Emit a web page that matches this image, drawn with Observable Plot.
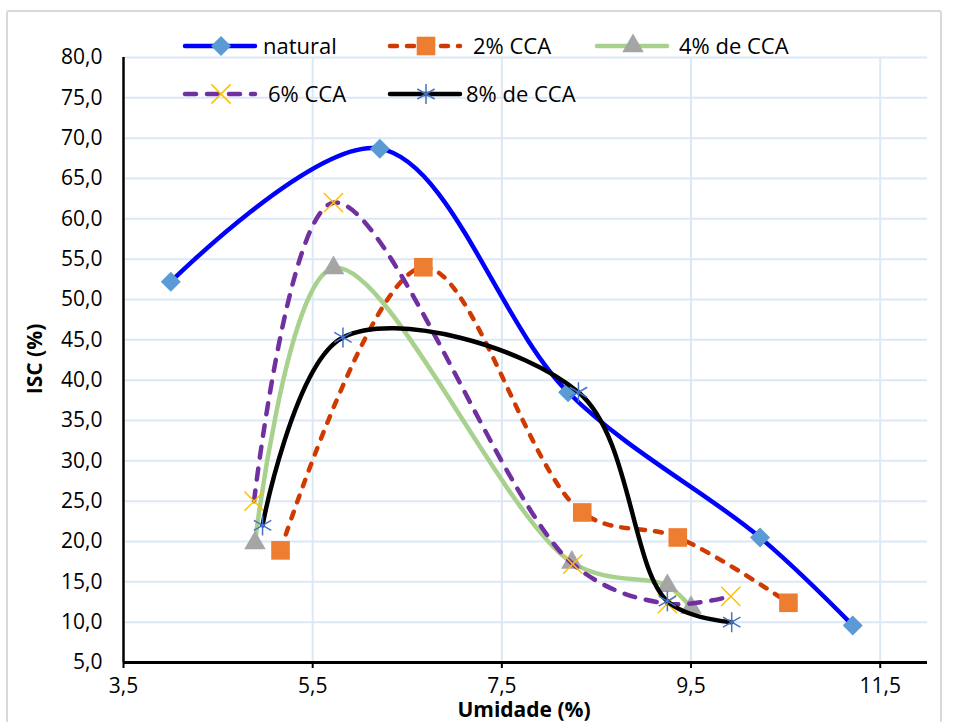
<!DOCTYPE html>
<html>
<head>
<meta charset="utf-8">
<script src="https://cdn.jsdelivr.net/npm/d3@7"></script>
<script src="https://cdn.jsdelivr.net/npm/@observablehq/plot@0.6"></script>
<style>
  html, body { margin: 0; padding: 0; background: #fff; }
  body { width: 953px; height: 722px; position: relative; overflow: hidden; font-family: "Open Sans", sans-serif; }
  #frame { position: absolute; left: 6px; top: 10px; width: 936px; height: 740px; border: 2px solid #d9d9d9; border-radius: 3px; box-sizing: border-box; }
  #chart { position: absolute; left: 0; top: 0; }
  .title { position: absolute; font-weight: bold; font-size: 21px; color: #000; white-space: nowrap; }
</style>
</head>
<body>
<div id="frame"></div>
<div id="chart"></div>
<div class="title" id="xtitle" style="left:524px; top:709px; transform: translate(-50%, -50%);">Umidade (%)</div>
<div class="title" id="ytitle" style="left:34px; top:359px; transform: translate(-50%, -50%) rotate(-90deg);">ISC (%)</div>
<script>
// ---- Data ----
const seriesNames = ["natural", "2% CCA", "4% de CCA", "6% CCA", "8% de CCA"];
const naturalX = [4.0, 6.21, 8.2, 10.23, 11.21];
const naturalY = [52.2, 68.7, 38.5, 20.5, 9.6];
const cca2X = [5.16, 6.67, 8.35, 9.36, 10.53];
const cca2Y = [18.9, 54.0, 23.6, 20.5, 12.4];
const cca4X = [4.89, 5.72, 8.24, 9.25, 9.5];
const cca4Y = [19.8, 53.9, 17.4, 14.5, 11.8];
const cca6X = [4.88, 5.72, 8.25, 9.25, 9.92];
const cca6Y = [25.0, 62.0, 17.2, 12.3, 13.2];
const cca8X = [4.97, 5.82, 8.31, 9.25, 9.93];
const cca8Y = [22.0, 45.3, 38.5, 12.6, 10.0];
const xTicks = [3.5, 5.5, 7.5, 9.5, 11.5];
const yTicks = [5, 10, 15, 20, 25, 30, 35, 40, 45, 50, 55, 60, 65, 70, 75, 80];

// ---- Styles ----
const styles = [
  {line: "#0000ff", dash: null, marker: "diamond2", fill: "#5b9bd5", stroke: "none", r: 9},
  {line: "#d03a00", dash: "7,10", marker: "square", fill: "#ed7d31", stroke: "none", r: 10.5},
  {line: "#a9d18e", dash: null, marker: "triangle", fill: "#a5a5a5", stroke: "none", r: 8},
  {line: "#7030a0", dash: "11,11", marker: "times", fill: "none", stroke: "#ffc000", r: 8.8},
  {line: "#000000", dash: null, marker: "asterisk", fill: "none", stroke: "#4472c4", r: 9.5}
];
const xs = [naturalX, cca2X, cca4X, cca6X, cca8X];
const ys = [naturalY, cca2Y, cca4Y, cca6Y, cca8Y];
const series = seriesNames.map((name, i) => xs[i].map((x, j) => ({name, x, y: ys[i][j]})));

const fmt = d3.format(".1f");
const comma = v => fmt(v).replace(".", ",");

const marks = [
  Plot.gridY(yTicks, {stroke: "#dce8f5", strokeOpacity: 1, strokeWidth: 2}),
  Plot.gridX(xTicks.slice(1), {stroke: "#dce8f5", strokeOpacity: 1, strokeWidth: 2}),
  Plot.axisY(yTicks, {tickSize: 0, tickPadding: 21, tickFormat: comma, fontSize: 21, fill: "#000", label: null}),
  Plot.axisX(xTicks, {tickSize: 6, tickPadding: 10, tickFormat: comma, fontSize: 21, fill: "#000", stroke: "#000", strokeWidth: 2, label: null}),
  Plot.ruleX([3.5], {stroke: "#000", strokeWidth: 2.5}),
  Plot.ruleY([5], {stroke: "#000", strokeWidth: 3})
];
series.forEach((data, i) => {
  const s = styles[i];
  marks.push(Plot.line(data, {x: "x", y: "y", curve: "catmull-rom", stroke: s.line, strokeWidth: 4.5,
    strokeDasharray: s.dash || undefined, strokeLinecap: "round"}));
  marks.push(Plot.dot(data, {x: "x", y: "y", symbol: () => s.marker, r: s.r, fill: s.fill,
    stroke: s.stroke, strokeWidth: s.stroke === "none" ? 0 : 1.5}));
});

const chart = Plot.plot({
  width: 953, height: 722,
  marginLeft: 123, marginRight: 26, marginTop: 57, marginBottom: 60,
  style: {fontFamily: "Open Sans, sans-serif", background: "transparent", overflow: "visible"},
  x: {domain: [3.5, 12.0], label: null},
  y: {domain: [5, 80], label: null},
  marks
});
document.getElementById("chart").appendChild(chart);

// ---- Legend (inside plot, top) ----
const legendPos = [
  {x0: 185, y: 46, tx: 263},
  {x0: 390, y: 46, tx: 473},
  {x0: 597, y: 46, tx: 679},
  {x0: 185, y: 94, tx: 268},
  {x0: 390, y: 94, tx: 466}
];
const symMap = {diamond2: d3.symbolDiamond2, square: d3.symbolSquare, triangle: d3.symbolTriangle, times: d3.symbolTimes, asterisk: d3.symbolAsterisk};
const svg = d3.select(chart);
const lg = svg.append("g");
seriesNames.forEach((name, i) => {
  const s = styles[i], p = legendPos[i];
  lg.append("line").attr("x1", p.x0).attr("x2", p.x0 + 70).attr("y1", p.y).attr("y2", p.y)
    .attr("stroke", s.line).attr("stroke-width", 4.5).attr("stroke-linecap", "round")
    .attr("stroke-dasharray", s.dash);
  lg.append("path").attr("transform", `translate(${p.x0 + 36},${p.y})`)
    .attr("d", d3.symbol(symMap[s.marker], Math.PI * s.r * s.r)())
    .attr("fill", s.fill).attr("stroke", s.stroke).attr("stroke-width", s.stroke === "none" ? 0 : 1.5);
  lg.append("text").attr("x", p.tx).attr("y", p.y).attr("dy", "0.35em")
    .attr("text-anchor", "start")
    .attr("font-size", 22).attr("fill", "#000").attr("font-family", "Open Sans, sans-serif")
    .text(name);
});
</script>
</body>
</html>
